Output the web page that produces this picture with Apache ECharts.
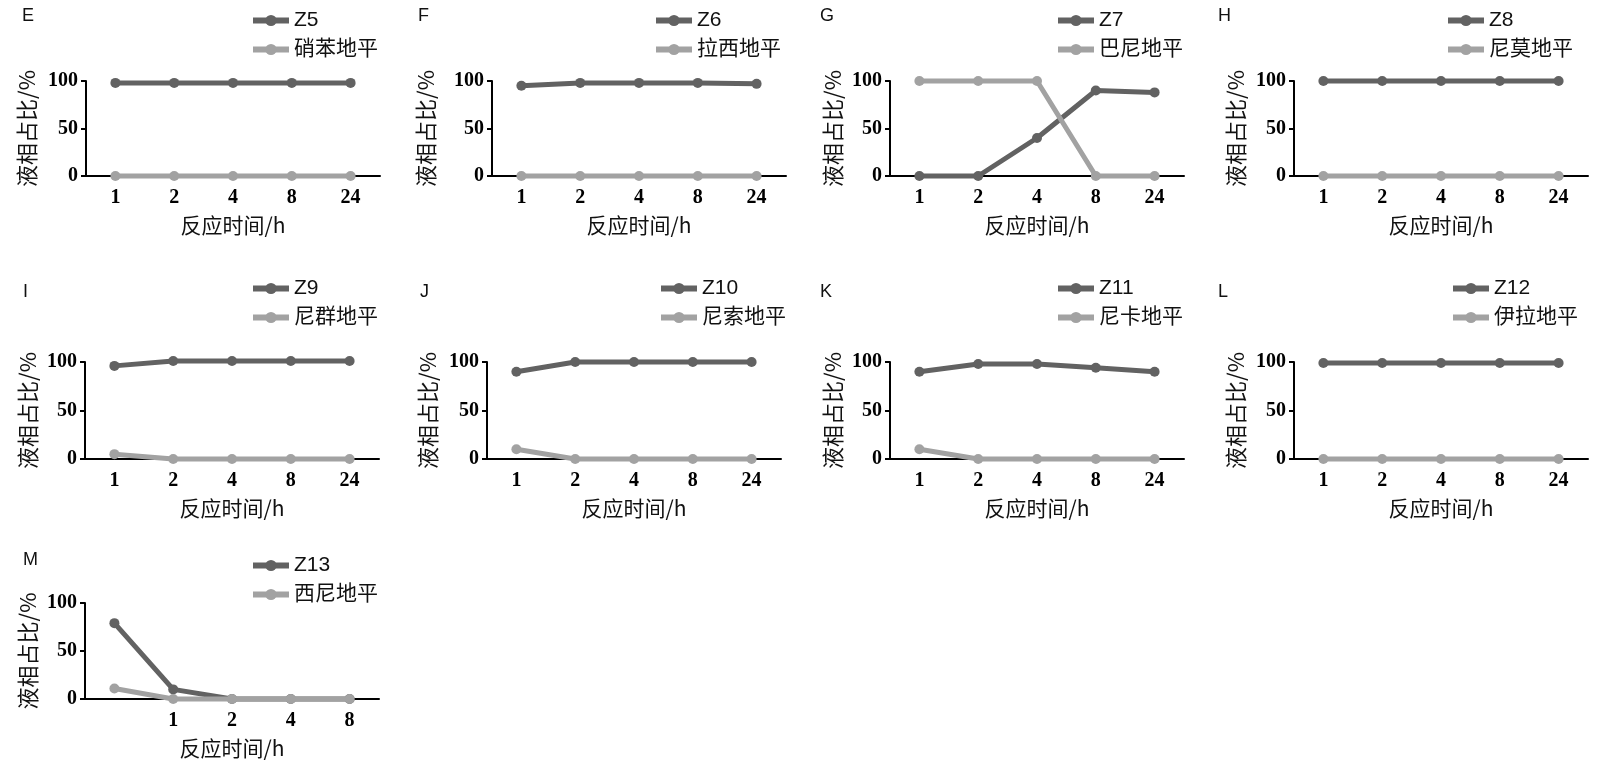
<!DOCTYPE html>
<html>
<head>
    <meta charset="utf-8">
    <title>液相占比</title>
    <script src="https://cdn.jsdelivr.net/npm/echarts@6/dist/echarts.min.js"></script>
    <style>
        html, body { margin: 0; padding: 0; background: #fff; }
        #main { width: 1600px; height: 770px; }
    </style>
</head>
<body>
<div id="main"></div>
<script>
    // 横轴刻度
    var timeLabels = ['1', '2', '4', '8', '24'];
    var timeLabelsM = ['', '1', '2', '4', '8'];

    var panelLetters = ['E', 'F', 'G', 'H', 'I', 'J', 'K', 'L', 'M'];
    var compoundNames = ['Z5', 'Z6', 'Z7', 'Z8', 'Z9', 'Z10', 'Z11', 'Z12', 'Z13'];
    var refNames = ['硝苯地平', '拉西地平', '巴尼地平', '尼莫地平', '尼群地平', '尼索地平', '尼卡地平', '伊拉地平', '西尼地平'];

    // 各化合物液相占比(%)
    var z5 = [98, 98, 98, 98, 98];
    var z6 = [95, 98, 98, 98, 97];
    var z7 = [0, 0, 40, 90, 88];
    var z8 = [100, 100, 100, 100, 100];
    var z9 = [96, 101, 101, 101, 101];
    var z10 = [90, 100, 100, 100, 100];
    var z11 = [90, 98, 98, 94, 90];
    var z12 = [99, 99, 99, 99, 99];
    var z13 = [79, 10, 0, 0, 0];

    // 对照药液相占比(%)
    var xiaoben = [0, 0, 0, 0, 0];
    var laxi = [0, 0, 0, 0, 0];
    var bani = [100, 100, 100, 0, 0];
    var nimo = [0, 0, 0, 0, 0];
    var niqun = [5, 0, 0, 0, 0];
    var nisuo = [10, 0, 0, 0, 0];
    var nika = [10, 0, 0, 0, 0];
    var yila = [0, 0, 0, 0, 0];
    var xini = [11, 0, 0, 0, 0];

    var compoundData = [z5, z6, z7, z8, z9, z10, z11, z12, z13];
    var refData = [xiaoben, laxi, bani, nimo, niqun, nisuo, nika, yila, xini];

    var yTicks = [0, 50, 100];

    // 版面位置
    var layout = [
        {left: 86, top: 81, h: 95, letterX: 22, letterY: 7, legendX: 245, legendY: 5, nameGap: 48},
        {left: 492, top: 81, h: 95, letterX: 418, letterY: 7, legendX: 648, legendY: 5, nameGap: 55},
        {left: 890, top: 81, h: 95, letterX: 820, letterY: 7, legendX: 1050, legendY: 5, nameGap: 46},
        {left: 1294, top: 81, h: 95, letterX: 1218, letterY: 7, legendX: 1440, legendY: 5, nameGap: 47},
        {left: 85, top: 362, h: 97, letterX: 23, letterY: 283, legendX: 245, legendY: 273, nameGap: 46},
        {left: 487, top: 362, h: 97, letterX: 420, letterY: 283, legendX: 653, legendY: 273, nameGap: 48},
        {left: 890, top: 362, h: 97, letterX: 820, letterY: 283, legendX: 1050, legendY: 273, nameGap: 46},
        {left: 1294, top: 362, h: 97, letterX: 1218, letterY: 283, legendX: 1445, legendY: 273, nameGap: 47},
        {left: 85, top: 603, h: 96, letterX: 23, letterY: 551, legendX: 245, legendY: 550, nameGap: 46}
    ];

    var darkColor = '#626262';
    var lightColor = '#a2a2a2';
    var plotWidth = 294;

    var grids = [], xAxes = [], yAxes = [], series = [], legends = [], titles = [];

    for (var i = 0; i < layout.length; i++) {
        var p = layout[i];
        grids.push({left: p.left, top: p.top, width: plotWidth, height: p.h, containLabel: false});
        xAxes.push({
            type: 'category',
            gridIndex: i,
            data: i === 8 ? timeLabelsM : timeLabels,
            boundaryGap: true,
            name: '反应时间/h',
            nameLocation: 'middle',
            nameGap: 39,
            nameTextStyle: {fontFamily: 'Noto Sans CJK SC', fontSize: 21, color: '#111'},
            axisLine: {lineStyle: {color: '#000', width: 2}},
            axisTick: {inside: true, length: 5, alignWithLabel: true, lineStyle: {color: '#000', width: 2}},
            axisLabel: {margin: 12, fontFamily: 'Liberation Serif', fontWeight: 'bold', fontSize: 20, color: '#000'},
            splitLine: {show: false}
        });
        yAxes.push({
            type: 'value',
            gridIndex: i,
            min: yTicks[0],
            max: yTicks[yTicks.length - 1],
            interval: 50,
            name: '液相占比/%',
            nameLocation: 'middle',
            nameGap: p.nameGap,
            nameTextStyle: {fontFamily: 'Noto Sans CJK SC', fontSize: 22, color: '#111'},
            axisLine: {show: true, lineStyle: {color: '#000', width: 2}},
            axisTick: {show: true, length: 5, lineStyle: {color: '#000', width: 2}},
            axisLabel: {margin: 8, fontFamily: 'Liberation Serif', fontWeight: 'bold', fontSize: 20, color: '#000'},
            splitLine: {show: false}
        });
        series.push({
            name: compoundNames[i],
            type: 'line',
            xAxisIndex: i,
            yAxisIndex: i,
            data: compoundData[i],
            symbol: 'circle',
            symbolSize: 10,
            clip: false,
            color: darkColor,
            lineStyle: {width: 5, color: darkColor},
            itemStyle: {color: darkColor},
            z: 3
        });
        series.push({
            name: refNames[i],
            type: 'line',
            xAxisIndex: i,
            yAxisIndex: i,
            data: refData[i],
            symbol: 'circle',
            symbolSize: 10,
            clip: false,
            color: lightColor,
            lineStyle: {width: 5, color: lightColor},
            itemStyle: {color: lightColor},
            z: 4
        });
        legends.push({
            data: [compoundNames[i], refNames[i]],
            orient: 'vertical',
            left: p.legendX,
            top: p.legendY,
            itemWidth: 36,
            itemHeight: 14,
            itemGap: 8,
            selectedMode: false,
            lineStyle: {width: 6},
            textStyle: {fontFamily: 'Liberation Sans, Noto Sans CJK SC', fontSize: 21, color: '#111'}
        });
        titles.push({
            text: panelLetters[i],
            left: p.letterX,
            top: p.letterY,
            padding: 0,
            textStyle: {fontFamily: 'Liberation Sans', fontSize: 18, fontWeight: 'normal', color: '#111'}
        });
    }

    var myChart = echarts.init(document.getElementById('main'));
    var option = {
        animation: false,
        backgroundColor: '#fff',
        title: titles,
        legend: legends,
        grid: grids,
        xAxis: xAxes,
        yAxis: yAxes,
        series: series
    };
    myChart.setOption(option);
</script>
</body>
</html>
